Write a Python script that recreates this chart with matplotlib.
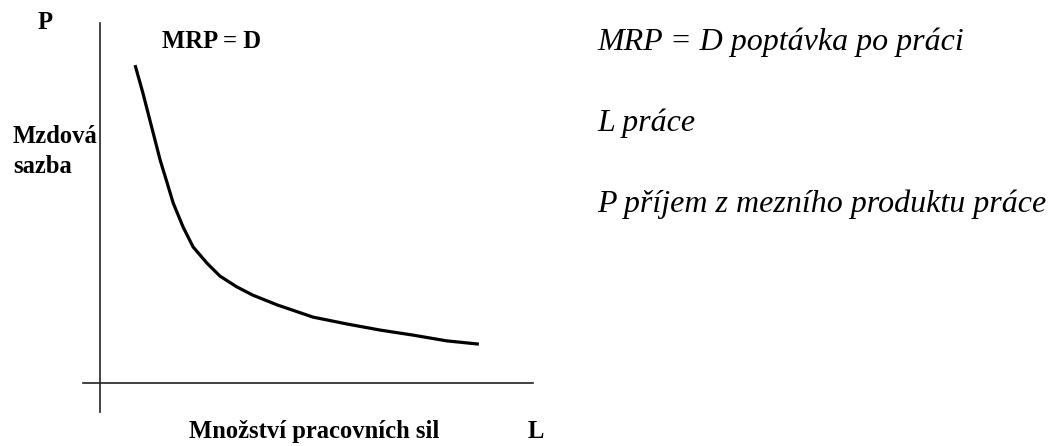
import matplotlib
matplotlib.use("Agg")
import matplotlib.pyplot as plt

# MRP = D curve (L on x, P on y, arbitrary units)
labour = [0.81, 0.99, 1.15, 1.27, 1.39, 1.55, 1.69, 1.92, 2.15, 2.47,
          2.77, 3.16, 3.53, 4.09, 4.92, 5.70, 6.47, 7.23, 8.01, 8.75]
wage = [8.83, 8.06, 7.31, 6.75, 6.19, 5.56, 5.00, 4.33, 3.78, 3.33,
        2.97, 2.67, 2.44, 2.17, 1.83, 1.64, 1.47, 1.33, 1.17, 1.08]

curve_label = "MRP = D"
y_label_lines = ["Mzdová", "sazba"]
x_label = "Množství pracovních sil"
y_axis_name = "P"
x_axis_name = "L"
notes = ["MRP = D poptávka po práci",
         "L práce",
         "P příjem z mezního produktu práce"]

W, H = 1055, 446
fig = plt.figure(figsize=(W / 100, H / 100), dpi=100)


def px(x, y):
    # pixel position -> figure fraction
    return x / W, 1 - y / H


# axes box: x 83..533 px, y 23..412 px, origin at (100, 383)
ax = fig.add_axes([83 / W, 1 - 412 / H, (533 - 83) / W, (412 - 23) / H])
ax.set_xlim(-17 / 43.3, 433 / 43.3)
ax.set_ylim(-29 / 36, 360 / 36)
for side in ["top", "right"]:
    ax.spines[side].set_visible(False)
ax.spines["left"].set_position(("data", 0))
ax.spines["bottom"].set_position(("data", 0))
for side in ["left", "bottom"]:
    ax.spines[side].set_linewidth(1.2)
    ax.spines[side].set_color("#222222")
ax.set_xticks([])
ax.set_yticks([])
ax.patch.set_alpha(0)

ax.plot(labour, wage, color="black", linewidth=2.3,
        solid_capstyle="butt", solid_joinstyle="round")

bold = dict(family="Liberation Serif", fontweight="bold", fontsize=17.7,
            ha="left", va="baseline")
fig.text(*px(38, 29), y_axis_name, **bold)
fig.text(*px(162, 48), curve_label, **bold)
fig.text(*px(13, 143), y_label_lines[0], **bold)
fig.text(*px(13, 173), y_label_lines[1], **bold)
fig.text(*px(189, 438), x_label, **bold)
fig.text(*px(528, 438), x_axis_name, **bold)

ital = dict(family="Liberation Serif", style="italic", fontsize=23,
            ha="left", va="baseline")
for txt, base in zip(notes, [50, 131, 212]):
    fig.text(*px(597, base), txt, **ital)

fig.savefig("out.png", dpi=100)
